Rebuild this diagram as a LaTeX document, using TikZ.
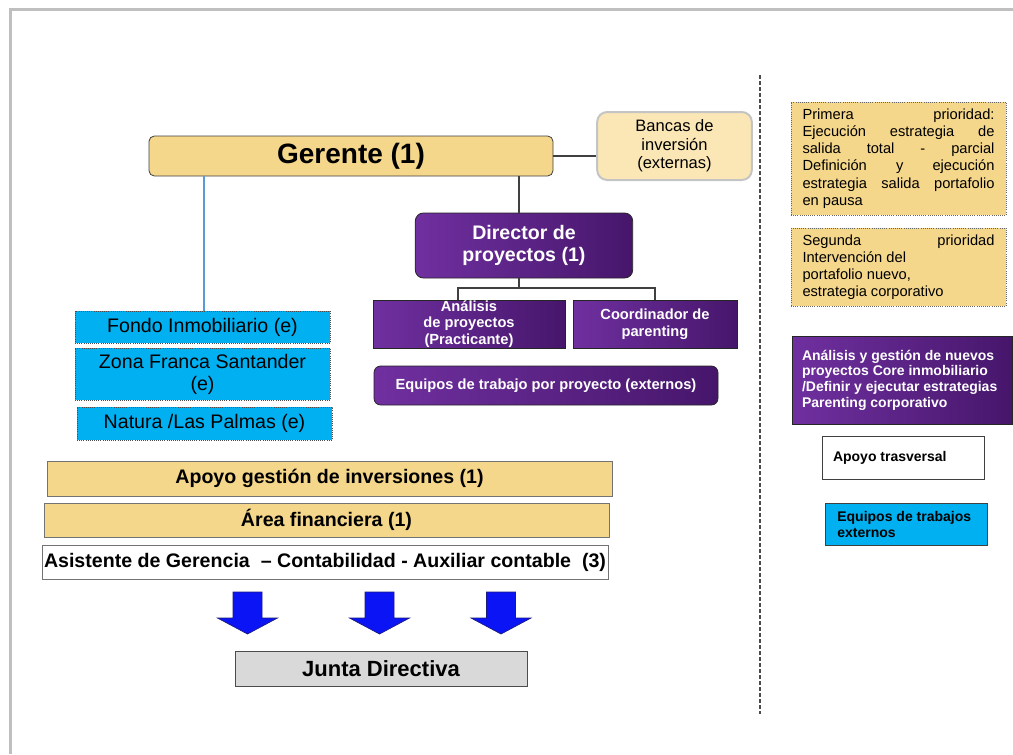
\documentclass[tikz,border=0pt]{standalone}
\usepackage{fontspec}
\setmainfont{Liberation Sans}
\usetikzlibrary{positioning}

\definecolor{goldfill}{HTML}{F5D78B}
\definecolor{bankfill}{HTML}{FBE7B6}
\definecolor{bankedge}{HTML}{C4C4C4}
\definecolor{cyanfill}{HTML}{00B0F0}
\definecolor{purpleA}{HTML}{7030A0}
\definecolor{purpleB}{HTML}{46166B}
\definecolor{arrowblue}{HTML}{0A14F5}
\definecolor{arrowedge}{HTML}{1A1A80}
\definecolor{juntafill}{HTML}{D9D9D9}
\definecolor{linkblue}{HTML}{5B9BD5}
\definecolor{edgegray}{HTML}{404040}

\newcommand\setfs[2]{\fontsize{#1}{#2}\selectfont}

\tikzset{
  box/.style={draw=edgegray, line width=0.6pt, inner sep=0pt, align=center},
  goldbox/.style={box, fill=goldfill},
  purplebox/.style={box, draw=black!85, left color=purpleA, right color=purpleB,
                    text=white, font=\bfseries},
  cyanbox/.style={box, fill=cyanfill, draw=black!70, densely dotted},
  notebox/.style={box, fill=goldfill, draw=black!60, densely dotted},
  link/.style={draw=edgegray, line width=0.9pt},
  blockarrow/.pic={
    \filldraw[fill=arrowblue, draw=arrowedge, line width=0.5pt]
      (-14.5,0) -- (14.5,0) -- (14.5,26) -- (30,26) -- (0,42)
      -- (-30,26) -- (-14.5,26) -- cycle;
  }
}

\begin{document}
\begin{tikzpicture}[x=0.75pt, y=-0.75pt]
\useasboundingbox (0,0) rectangle (1013,754);

% page frame
\draw[line width=2.25pt, black!25] (10,754) -- (10,9) -- (1013,9);

% divider between chart and legend
\draw[dash pattern=on 3pt off 1.5pt, line width=1pt, black!70] (760,75) -- (760,714);

% management
\node[goldbox, rounded corners=4pt, minimum width=303pt, minimum height=30pt,
      font=\bfseries\setfs{21pt}{25pt}] (gerente) at (351,156) {Gerente (1)};
\node[box, fill=bankfill, draw=bankedge, line width=1.5pt, rounded corners=7.5pt,
      minimum width=116pt, minimum height=51pt, font=\setfs{12.4pt}{13.9pt}]
      (bancas) at (674.5,146) {Bancas de\\inversión\\(externas)};

\node[purplebox, rounded corners=6pt, minimum width=163pt, minimum height=48.75pt,
      font=\bfseries\setfs{14.7pt}{16.5pt}] (director) at (524,245.5)
      {Director de\\proyectos (1)};
\node[purplebox, minimum width=144pt, minimum height=36pt,
      font=\bfseries\setfs{11pt}{12.4pt}] (analisis) at (469,324)
      {Análisis\\de proyectos\\(Practicante)};
\node[purplebox, minimum width=123pt, minimum height=36pt,
      font=\bfseries\setfs{11pt}{12.8pt}] (coord) at (655,324)
      {Coordinador de\\parenting};
\node[purplebox, rounded corners=5pt, minimum width=258pt, minimum height=29.25pt,
      font=\bfseries\setfs{11pt}{13pt}] (equipos) at (546,385.5)
      {Equipos de trabajo por proyecto (externos)};

% funds
\node[cyanbox, minimum width=191.25pt, minimum height=24pt,
      font=\setfs{14.7pt}{16.5pt}] (fondo) at (202.5,327) {Fondo Inmobiliario (e)};
\node[cyanbox, minimum width=191.25pt, minimum height=39pt,
      font=\setfs{14.7pt}{16.5pt}] (zona) at (202.5,374) {Zona Franca Santander\\(e)};
\node[cyanbox, minimum width=191.25pt, minimum height=24.75pt,
      font=\setfs{14.7pt}{16.5pt}] (natura) at (204.5,423.5) {Natura /Las Palmas (e)};

% support staff
\node[goldbox, draw=black!55, minimum width=423.75pt, minimum height=26.25pt,
      font=\bfseries\setfs{14.7pt}{16.5pt}] (apoyo) at (329.5,478.5)
      {Apoyo gestión de inversiones (1)};
\node[goldbox, draw=black!55, minimum width=423.75pt, minimum height=25.5pt,
      font=\bfseries\setfs{14.7pt}{16.5pt}] (area) at (326.5,520)
      {Área financiera (1)};
\node[box, fill=white, draw=black!55, minimum width=424.5pt, minimum height=25.5pt,
      font=\bfseries\setfs{14.7pt}{16.5pt}] (asistente) at (325,562)
      {Asistente de Gerencia \ – Contabilidad - Auxiliar contable \ (3)};

% board
\node[box, fill=juntafill, draw=black!70, minimum width=219pt, minimum height=26.25pt,
      font=\bfseries\setfs{16.5pt}{18pt}] (junta) at (381,668.5) {Junta Directiva};

\pic at (247.5,592) {blockarrow};
\pic at (379.5,592) {blockarrow};
\pic at (501,592) {blockarrow};

% connectors
\coordinate (bar) at (519,288);
\coordinate (dropL) at (458,300);
\draw[link] (gerente.east) -- (gerente.east -| bancas.west);
\draw[draw=linkblue, line width=1pt] (gerente.south -| 204,0) -- (fondo.north -| 204,0);
\draw[link] (gerente.south -| bar) -- (director.north -| bar);
\draw[link] (director.south -| bar) -- (bar);
\draw[link] (dropL) |- (bar) -| (coord.north);

% legend
\node[notebox, minimum width=161.25pt, minimum height=84.75pt, align=left,
      font=\setfs{11pt}{12.9pt}] (primera) at (898.5,158.5)
      {\makebox[144pt][s]{Primera prioridad:}\\
       \makebox[144pt][s]{Ejecución estrategia de}\\
       \makebox[144pt][s]{salida total - parcial}\\
       \makebox[144pt][s]{Definición y ejecución}\\
       \makebox[144pt][s]{estrategia salida portafolio}\\
       \makebox[144pt][l]{en pausa}};
\node[notebox, minimum width=161.25pt, minimum height=58.5pt, align=left,
      font=\setfs{11pt}{12.9pt}] (segunda) at (898.5,267)
      {\makebox[144pt][s]{Segunda prioridad}\\
       \makebox[144pt][l]{Intervención del}\\
       \makebox[144pt][l]{portafolio nuevo,}\\
       \makebox[144pt][l]{estrategia corporativo}};
\node[purplebox, minimum width=165pt, minimum height=66pt, align=left,
      font=\bfseries\setfs{10.5pt}{11.8pt}] (nuevos) at (902,380)
      {\makebox[150pt][l]{Análisis y gestión de nuevos}\\
       \makebox[150pt][l]{proyectos Core inmobiliario}\\
       \makebox[150pt][l]{/Definir y ejecutar estrategias}\\
       \makebox[150pt][l]{Parenting corporativo}};
\node[box, fill=white, draw=black!75, minimum width=121.5pt, minimum height=32.25pt,
      align=left, font=\bfseries\setfs{10.5pt}{12pt}] (trasv) at (903,457.5)
      {\makebox[105pt][l]{Apoyo trasversal}};
\node[box, fill=cyanfill, draw=black!75, minimum width=121.5pt, minimum height=31.5pt,
      align=left, font=\bfseries\setfs{10.5pt}{12pt}] (extern) at (906,524)
      {\makebox[103pt][l]{Equipos de trabajos}\\
       \makebox[103pt][l]{externos}};
\end{tikzpicture}
\end{document}
